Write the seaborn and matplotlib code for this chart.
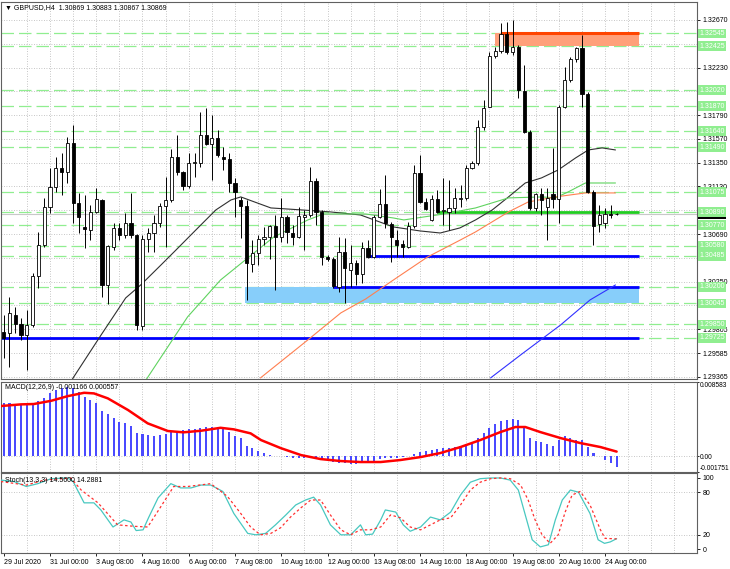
import numpy as np
import pandas as pd
import matplotlib
matplotlib.use("Agg")
import matplotlib.pyplot as plt
import seaborn as sns

sns.set_theme(style="white")
plt.rcParams['font.family'] = ['Liberation Sans', 'DejaVu Sans']

# ---- candles (GBPUSD H4, bar 0 = 29 Jul 16:00) ----
opens = [1.29781, 1.29771, 1.29938, 1.29855, 1.29753, 1.29845, 1.30299, 1.30586, 1.30938, 1.31123,
         1.31299, 1.31262, 1.31531, 1.30975, 1.30753, 1.30725, 1.30892, 1.31003, 1.30216, 1.30568,
         1.30744, 1.30679, 1.30790, 1.30679, 1.29836, 1.30642, 1.30697, 1.30790, 1.30947, 1.31003,
         1.31401, 1.31262, 1.31133, 1.31346, 1.31346, 1.31605, 1.31522, 1.31577, 1.31401, 1.31383,
         1.31160, 1.31003, 1.30947, 1.30410, 1.30512, 1.30642, 1.30660, 1.30762, 1.30660, 1.30846,
         1.30697, 1.30660, 1.30846, 1.30864, 1.31179, 1.30892, 1.30475, 1.30457, 1.30197, 1.30522,
         1.30355, 1.30420, 1.30318, 1.30559, 1.30475, 1.30846, 1.30966, 1.30781, 1.30633, 1.30596,
         1.30568, 1.30762, 1.31253, 1.30984, 1.30818, 1.31012, 1.30901, 1.30892, 1.30929, 1.31012,
         1.31022, 1.31299, 1.31346, 1.31679, 1.31864, 1.32336, 1.32383, 1.32540, 1.32374, 1.32420,
         1.32012, 1.31633, 1.30929, 1.31059, 1.30938, 1.31059, 1.31012, 1.31864, 1.32114, 1.32309,
         1.32411, 1.31985, 1.31077, 1.30781, 1.30790, 1.30873, 1.30869]
highs = [1.29938, 1.30105, 1.30012, 1.29910, 1.29984, 1.30327, 1.30707, 1.31022, 1.31299, 1.31401,
         1.31438, 1.31586, 1.31698, 1.31068, 1.31049, 1.30957, 1.31114, 1.31012, 1.30586, 1.30790,
         1.30790, 1.30883, 1.31068, 1.30688, 1.30679, 1.30744, 1.30864, 1.30975, 1.31216, 1.31475,
         1.31605, 1.31270, 1.31438, 1.31438, 1.31818, 1.31855, 1.31790, 1.31651, 1.31494, 1.31438,
         1.31207, 1.31031, 1.31003, 1.30633, 1.30679, 1.30753, 1.30772, 1.30864, 1.31022, 1.30864,
         1.30772, 1.30938, 1.30911, 1.31309, 1.31207, 1.30911, 1.30494, 1.30475, 1.30660, 1.30651,
         1.30586, 1.30448, 1.30614, 1.30633, 1.30864, 1.31105, 1.31235, 1.30799, 1.30725, 1.30633,
         1.30799, 1.31327, 1.31420, 1.31022, 1.31049, 1.31096, 1.31207, 1.31189, 1.31114, 1.31142,
         1.31327, 1.31364, 1.31744, 1.31929, 1.32374, 1.32420, 1.32642, 1.32651, 1.32670, 1.32438,
         1.32253, 1.31651, 1.31068, 1.31114, 1.31114, 1.31485, 1.31883, 1.32235, 1.32327, 1.32420,
         1.32531, 1.32003, 1.31096, 1.30957, 1.30929, 1.30957, 1.30883]
lows = [1.29540, 1.29457, 1.29771, 1.29707, 1.29429, 1.29827, 1.30188, 1.30568, 1.30883, 1.31077,
        1.31049, 1.31160, 1.30790, 1.30697, 1.30559, 1.30633, 1.30883, 1.30105, 1.30040, 1.30540,
        1.30633, 1.30651, 1.30651, 1.29799, 1.29799, 1.30522, 1.30522, 1.30753, 1.30568, 1.30984,
        1.31235, 1.31096, 1.31114, 1.31216, 1.31309, 1.31512, 1.31189, 1.31401, 1.31281, 1.31077,
        1.30846, 1.30651, 1.30077, 1.30336, 1.30401, 1.30586, 1.30457, 1.30170, 1.30614, 1.30605,
        1.30586, 1.30651, 1.30540, 1.30846, 1.30772, 1.30401, 1.30438, 1.30188, 1.30151, 1.30049,
        1.30197, 1.30216, 1.30234, 1.30466, 1.30466, 1.30836, 1.30744, 1.30429, 1.30475, 1.30475,
        1.30559, 1.30744, 1.30975, 1.30911, 1.30808, 1.30883, 1.30772, 1.30725, 1.30883, 1.30938,
        1.31003, 1.31290, 1.31327, 1.31651, 1.31864, 1.32318, 1.32364, 1.32355, 1.32346, 1.31948,
        1.31623, 1.30911, 1.30901, 1.30864, 1.30633, 1.30929, 1.30790, 1.31855, 1.32096, 1.32281,
        1.31864, 1.31068, 1.30586, 1.30707, 1.30744, 1.30836, 1.30867]
closes = [1.29725, 1.29957, 1.29855, 1.29753, 1.29845, 1.30299, 1.30586, 1.30938, 1.31123, 1.31299,
          1.31262, 1.31531, 1.30975, 1.30846, 1.30735, 1.30892, 1.31012, 1.30216, 1.30577, 1.30744,
          1.30679, 1.30790, 1.30679, 1.29845, 1.30642, 1.30697, 1.30790, 1.30947, 1.31003, 1.31401,
          1.31262, 1.31133, 1.31346, 1.31355, 1.31605, 1.31522, 1.31577, 1.31420, 1.31383, 1.31160,
          1.31077, 1.30947, 1.30420, 1.30512, 1.30642, 1.30660, 1.30762, 1.30660, 1.30846, 1.30707,
          1.30660, 1.30855, 1.30864, 1.31179, 1.30892, 1.30475, 1.30457, 1.30207, 1.30522, 1.30373,
          1.30420, 1.30318, 1.30559, 1.30475, 1.30846, 1.30966, 1.30790, 1.30660, 1.30586, 1.30568,
          1.30762, 1.31253, 1.30984, 1.30920, 1.31012, 1.30892, 1.30911, 1.30929, 1.31022, 1.31022,
          1.31299, 1.31346, 1.31679, 1.31855, 1.32336, 1.32383, 1.32540, 1.32374, 1.32420, 1.32022,
          1.31633, 1.30929, 1.31059, 1.31003, 1.31022, 1.31012, 1.31864, 1.32114, 1.32309, 1.32411,
          1.31985, 1.31077, 1.30762, 1.30864, 1.30873, 1.30864, 1.30869]

# ---- moving averages (bar, price) ----
ma_black_bar = [9.9, 12, 16.5, 21.1, 23.7, 27.2, 29.8, 34.1, 36.7, 39.3, 41, 46.2, 51.4, 56.5, 61.7,
                67.4, 72, 75.5, 78.9, 81.6, 84.5, 87.3, 90.2, 93, 95.9, 98.9, 101.1, 103.5, 105.8]
ma_black_val = [1.29151, 1.29355, 1.29725, 1.30096, 1.30216, 1.30401, 1.30540, 1.30772, 1.30911, 1.31003,
                1.31031, 1.30929, 1.30911, 1.30892, 1.30864, 1.30753, 1.30716, 1.30697, 1.30744, 1.30818,
                1.30911, 1.31031, 1.31160, 1.31207, 1.31281, 1.31392, 1.31466, 1.31485, 1.31466]
ma_green_bar = [24.6, 31.8, 37.5, 41.8, 46.7, 52.6, 55.3, 62.6, 67.4, 69.2, 76.1, 81.6, 87.3,
                93.1, 95.4, 97.6, 100.6, 105.8]
ma_green_val = [1.29336, 1.29920, 1.30262, 1.30448, 1.30660, 1.30818, 1.30873, 1.30873, 1.30836, 1.30818,
                1.30873, 1.30929, 1.31022, 1.31031, 1.31022, 1.31077, 1.31160, 1.31160]
ma_orange_bar = [44.4, 52.6, 58.3, 62.6, 67.4, 73.3, 79, 81.6, 87.3, 90.7, 95.4, 100.6, 105.8]
ma_orange_val = [1.29355, 1.29707, 1.29957, 1.30086, 1.30262, 1.30475, 1.30633, 1.30707, 1.30892,
                 1.30984, 1.31031, 1.31068, 1.31068]
ma_blue_bar = [84.2, 89.4, 96.3, 101.4, 105.8]
ma_blue_val = [1.29355, 1.29568, 1.29845, 1.30077, 1.30216]

# ---- MACD (x 1e-3) ----
macd_hist = [6.10, 6.16, 5.98, 5.98, 5.98, 6.10, 6.36, 6.74, 7.24, 7.62,
             7.82, 8.00, 7.82, 7.43, 6.85, 6.47, 6.10, 5.25, 4.83, 4.37,
             3.98, 3.80, 3.49, 2.65, 2.54, 2.46, 2.38, 2.46, 2.57, 2.84,
             2.92, 3.03, 3.11, 3.18, 3.29, 3.41, 3.41, 3.34, 3.11, 2.84,
             2.38, 2.08, 1.19, 0.96, 0.62, 0.39, 0.16, 0.05, 0.05, -0.07,
             -0.18, -0.18, -0.18, -0.07, -0.07, -0.30, -0.53, -0.64, -0.76, -0.76,
             -0.87, -0.87, -0.76, -0.76, -0.53, -0.30, -0.18, -0.18, -0.18, -0.07,
             0.05, 0.28, 0.51, 0.62, 0.73, 0.85, 0.96, 0.96, 1.08, 1.19,
             1.42, 1.65, 2.11, 2.69, 3.26, 3.72, 4.06, 4.18, 4.29, 4.18,
             3.26, 2.11, 1.77, 1.65, 1.42, 1.19, 1.88, 2.34, 2.11, 1.88,
             1.88, 1.08, 0.39, 0.05, -0.41, -0.76, -1.166]
macd_sig_bar = [-0.5, 3, 5.2, 8.2, 11.1, 13.9, 15.6, 18, 21.5, 24.9, 28.4, 31.1, 34.1, 37.5, 39.8,
                42.7, 44.5, 47.9, 51.4, 54.8, 58.3, 61.7, 65.2, 68.6, 72.1, 75.5, 79, 82.4, 85.9,
                88.5, 90.2, 92.8, 96.3, 99.7, 103.2, 106]
macd_sig_val = [5.79, 5.98, 6.02, 6.39, 6.93, 7.31, 7.24, 6.67, 5.33, 3.80, 2.92, 2.77, 2.95, 3.29, 3.11,
                2.65, 1.88, 0.96, 0.16, -0.30, -0.53, -0.64, -0.64, -0.41, -0.07, 0.39, 1.08, 1.88, 2.80,
                3.38, 3.38, 2.80, 2.11, 1.54, 1.08, 0.557]

# ---- Stochastic (13,3,3) ----
stoch_main_bar = [-0.5, 1.8, 3.9, 5.9, 8.2, 11.1, 12, 13.9, 15.6, 16.8, 18.9, 20.8, 22, 22.9, 24.1,
                  25.1, 26.7, 28.9, 30.6, 32.4, 34.1, 35.8, 37.9, 39.8, 42.2, 43.6, 45.3, 47, 48.8,
                  50.5, 52.2, 53.6, 54.8, 56.5, 58.3, 60, 61.7, 62.6, 63.8, 65.2, 66, 67.8, 69.1,
                  70.3, 72.1, 73.8, 75.5, 77.3, 79, 80.7, 82.4, 84.2, 85.9, 87.6, 89, 90.2, 91.4,
                  92.8, 94.2, 95.4, 96.6, 98, 99.4, 101.4, 102.8, 103.9, 104.9, 106]
stoch_main_val = [97, 95, 88, 92, 99, 100, 95, 65, 65, 55, 31, 41, 38, 26, 27,
                  45, 72, 92, 86, 86, 90, 90, 81, 50, 22, 20, 22, 34, 48,
                  62, 69, 73, 62, 34, 20, 20, 34, 20, 21, 41, 55, 52, 34,
                  25, 31, 45, 41, 52, 76, 94, 99, 100, 100, 97, 83, 48, 13,
                  3, 6, 41, 69, 83, 80, 50, 13, 8, 10, 14.56]
stoch_sig_bar = [-0.5, 3.9, 7, 11.6, 13.4, 16.3, 19.7, 22.5, 24.9, 27.2, 29.4, 31.8, 35.8, 38.7, 41,
                 42.7, 44.4, 46.2, 47.9, 49.6, 51.4, 53.1, 54.8, 56.5, 58.3, 60, 61.7, 63.4, 65.2,
                 66.9, 68.6, 70.3, 72.1, 73.8, 75.5, 77.3, 79, 80.7, 82.4, 84.2, 85.9, 87.6, 89.4,
                 90.7, 91.9, 93.1, 94.5, 95.9, 97.1, 98.3, 99.7, 101.4, 103.2, 104, 106]
stoch_sig_val = [95, 90, 97, 100, 83, 65, 34, 32, 31, 60, 88, 88, 92, 74, 50,
                 31, 20, 22, 30, 45, 58, 69, 69, 48, 27, 20, 27, 27, 31,
                 48, 44, 31, 27, 34, 41, 44, 62, 83, 94, 99, 100, 99, 90,
                 69, 41, 20, 8, 20, 52, 76, 81, 62, 27, 15, 14.29]

# ---- levels / objects ----
tag_levels = [1.32545, 1.32425, 1.32020, 1.31870, 1.31640, 1.31490, 1.31075, 1.30890,
              1.30770, 1.30580, 1.30485, 1.30200, 1.30045, 1.29850, 1.29725]
bid_price = 1.30869
resist_zone = (1.32425, 1.32545)
support_zone = (1.30045, 1.30200)
green_line = 1.30890
blue_lines = [1.30485, 1.30200, 1.29725]

price_ticks = np.linspace(1.32670, 1.29365, 16)
# labels hidden behind the level tags are left empty
price_tick_labels = ["1.32670", "", "1.32230", "", "1.31790", "1.31570", "1.31350",
                     "1.31130", "", "1.30690", "", "1.30250", "", "1.29805",
                     "1.29585", "1.29365"]
date_labels = ["29 Jul 2020", "31 Jul 00:00", "3 Aug 08:00", "4 Aug 16:00", "6 Aug 00:00",
               "7 Aug 08:00", "10 Aug 16:00", "12 Aug 00:00", "13 Aug 08:00", "14 Aug 16:00",
               "18 Aug 00:00", "19 Aug 08:00", "20 Aug 16:00", "24 Aug 00:00"]

df = pd.DataFrame({"open": opens, "high": highs, "low": lows, "close": closes})
df["bar"] = np.arange(len(df))

W, H = 730, 569
fig = plt.figure(figsize=(W / 100, H / 100), dpi=100)
fig.patch.set_facecolor("white")
ax = fig.add_axes([1 / W, 1 - 379 / H, 696 / W, 377 / H])
axm = fig.add_axes([1 / W, 1 - 471.7 / H, 696 / W, 90 / H])
axs = fig.add_axes([1 / W, 1 - 553 / H, 696 / W, 80 / H])

XMIN, XMAX = -0.47, 119.9
obj_end = 109.9
grid_kw = dict(color="#b4b4b4", lw=0.6, ls=(0, (1, 2)))
FS = 5

for a in (ax, axm, axs):
    a.set_facecolor("white")
    for s in a.spines.values():
        s.set_color("#606060")
        s.set_linewidth(0.8)
    a.set_xticks(np.arange(4, 120, 4), minor=True)
    a.grid(True, which="minor", axis="x", **grid_kw)
    a.tick_params(which="minor", length=0)
    a.tick_params(axis="y", which="major", left=False, right=True, labelleft=False, labelright=True,
                  length=2.5, width=0.6, pad=1.5, labelsize=FS, colors="black")

# ---- price panel ----
ax.set_yticks(price_ticks)
ax.set_yticklabels(price_tick_labels)
ax.yaxis.grid(True, **grid_kw)
ax.set_xticks([])

for lv in tag_levels:
    ax.axhline(lv, color="#90ee90", lw=0.9, ls=(0, (10, 4)), zorder=1)
ax.axhline(bid_price, color="#c8c8c8", lw=0.8, zorder=1)

ax.fill_between([84.9, obj_end], resist_zone[0], resist_zone[1], color="#ffa07a", lw=0, zorder=1.5)
ax.hlines(resist_zone[1], 86.0, obj_end, color="#ff4500", lw=2.2, zorder=1.6)
ax.fill_between([41.8, obj_end], support_zone[0], support_zone[1], color="#87cefa", lw=0, zorder=1.5)
ax.hlines(blue_lines[0], 62.9, obj_end, color="#0000ff", lw=2.0, zorder=1.6)
ax.hlines(blue_lines[1], 57.0, obj_end, color="#0000ff", lw=2.0, zorder=1.6)
ax.hlines(blue_lines[2], XMIN, obj_end, color="#0000ff", lw=2.0, zorder=1.6)
ax.hlines(green_line, 75.0, obj_end, color="#22cc22", lw=2.0, zorder=1.6)

for bx, by, col in [(ma_black_bar, ma_black_val, "#303030"), (ma_green_bar, ma_green_val, "#5fd35f"),
                    (ma_orange_bar, ma_orange_val, "#ff7f50"), (ma_blue_bar, ma_blue_val, "#3030ff")]:
    sns.lineplot(x=bx, y=by, ax=ax, color=col, lw=0.8, zorder=2, legend=False)

up = df["close"] >= df["open"]
ax.vlines(df["bar"], df["low"], df["high"], color="black", lw=0.7, zorder=3)
body = np.maximum((df["close"] - df["open"]).abs(), 0.00002)
ax.bar(df["bar"], body, bottom=np.minimum(df["open"], df["close"]), width=0.55,
       color=np.where(up, "white", "black"), edgecolor="black", linewidth=0.6, zorder=4)

ax.set_xlim(XMIN, XMAX)
ax.set_ylim(1.29345, 1.32836)
ax.set_xlabel("")
ax.set_ylabel("")

tr = ax.get_yaxis_transform()
ax.text(1.003, bid_price, f"{bid_price:.5f}", transform=tr, fontsize=FS, color="white", va="center",
        ha="left", bbox=dict(boxstyle="square,pad=0.2", fc="black", ec="none"), zorder=9, clip_on=False)
for lv in tag_levels:
    ax.text(1.003, lv, f"{lv:.5f}", transform=tr, fontsize=FS, color="white", va="center", ha="left",
            bbox=dict(boxstyle="square,pad=0.2", fc="#90ee90", ec="none"), zorder=10, clip_on=False)

ax.text(4 / 696, 1 - 6 / 377, "\u25bc GBPUSD,H4  1.30869 1.30883 1.30867 1.30869", transform=ax.transAxes,
        fontsize=FS, va="center", ha="left", color="black", zorder=12)

# ---- MACD panel ----
axm.bar(df["bar"], np.array(macd_hist) / 1000, width=0.35, color="#4a4aff", lw=0, zorder=2)
sns.lineplot(x=macd_sig_bar, y=np.array(macd_sig_val) / 1000, ax=axm, color="#ff0000", lw=1.8,
             zorder=3, legend=False)
axm.axhline(0, zorder=1, **grid_kw)
axm.set_xlim(XMIN, XMAX)
axm.set_ylim(-0.001751, 0.008583)
axm.set_yticks([0.008583, 0.0, -0.001751])
axm.set_yticklabels(["0.008583", "0.00", "-0.001751"])
axm.tick_params(axis="y", which="major", length=1.5, pad=0.8, labelsize=4.8)
ylabs = axm.get_yticklabels()
ylabs[0].set_va("top")
ylabs[2].set_va("bottom")
axm.set_xticks([])
axm.set_xlabel("")
axm.set_ylabel("")
axm.text(4 / 696, 0.935, "MACD(12,26,9) -0.001166 0.000557", transform=axm.transAxes, fontsize=FS,
         va="center", ha="left", color="black", zorder=12)

# ---- Stochastic panel ----
sns.lineplot(x=stoch_main_bar, y=stoch_main_val, ax=axs, color="#48c8c0", lw=0.9, zorder=3, legend=False)
sns.lineplot(x=stoch_sig_bar, y=stoch_sig_val, ax=axs, color="#ff3030", lw=0.9, ls=(0, (2, 2)),
             zorder=3, legend=False)
for lv in (20, 80):
    axs.axhline(lv, zorder=1, **grid_kw)
axs.set_xlim(XMIN, XMAX)
axs.set_ylim(-5.6, 107)
axs.set_yticks([100, 80, 20, 0])
axs.set_yticklabels(["100", "80", "20", "0"])
axs.set_xticks(np.arange(0, 8 * len(date_labels), 8))
axs.set_xticklabels(date_labels, ha="left")
axs.tick_params(axis="x", which="major", bottom=True, length=2.5, width=0.6, pad=1.5, labelsize=FS,
                colors="black")
axs.set_xlabel("")
axs.set_ylabel("")
axs.text(4 / 696, 0.91, "Stoch(13,3,3) 14.5600 14.2881", transform=axs.transAxes, fontsize=FS,
         va="center", ha="left", color="black", zorder=12)

fig.savefig("out.png", dpi=100, facecolor="white")
